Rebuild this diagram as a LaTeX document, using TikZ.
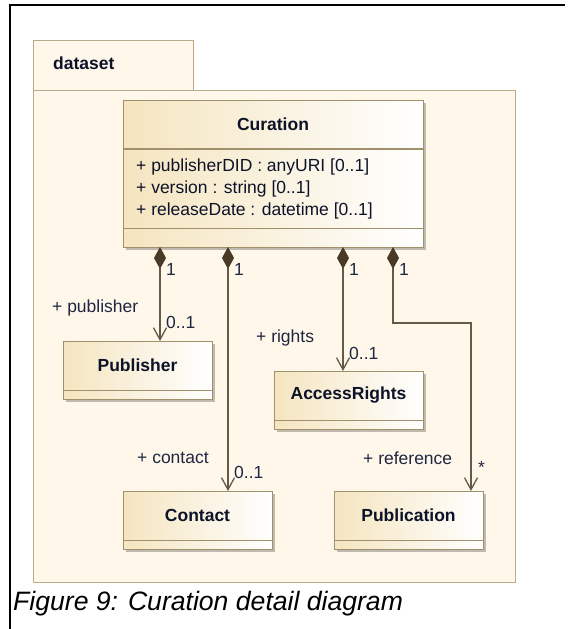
\documentclass[tikz,border=0pt]{standalone}
\usepackage{fontspec}
\setmainfont{Liberation Sans}
\usetikzlibrary{arrows.meta,shadows,calc}
\definecolor{pkgfill}{RGB}{255,248,234}
\definecolor{pkgborder}{RGB}{184,172,136}
\definecolor{clsborder}{RGB}{160,145,108}
\definecolor{clsleft}{RGB}{245,229,192}
\definecolor{linecol}{RGB}{100,90,72}
\definecolor{diamondcol}{RGB}{72,58,38}
\definecolor{txtcol}{RGB}{12,18,40}
\definecolor{lblcol}{RGB}{30,38,66}
\begin{document}
\begin{tikzpicture}[x=1pt,y=-1pt,
  pkg/.style={draw=pkgborder, line width=1.3pt, fill=pkgfill, inner sep=0pt},
  cls/.style={draw=clsborder, line width=1.3pt, left color=clsleft, right color=white, inner sep=0pt,
     drop shadow={shadow xshift=2pt, shadow yshift=-2pt, fill=black, opacity=0.25}},
  clsline/.style={draw=clsborder, line width=1.3pt},
  clsname/.style={inner sep=0pt, text=txtcol, font=\fontsize{17.5}{20}\selectfont\bfseries},
  attr/.style={inner sep=0pt, anchor=west, text=txtcol, font=\fontsize{17.5}{20}\selectfont},
  lbl/.style={inner sep=0pt, anchor=west, text=lblcol, font=\fontsize{17.5}{20}\selectfont},
  comp/.style={draw=linecol, line width=1.3pt,
     {Diamond[length=22pt,width=12pt,color=diamondcol]}-{Straight Barb[length=12pt,width=13pt]}}
]
\useasboundingbox (0,0) rectangle (569,629);
\fill[white] (0,0) rectangle (569,629);
\coordinate (fbl) at (10,629);
\coordinate (ftl) at (10,5);
\coordinate (ftr) at (565,5);
\draw[black, line width=1.2pt] (fbl) -- (ftl) -- (ftr);

% package
\node[pkg, anchor=north west, minimum width=160pt, minimum height=49.5pt] (tab) at (33,40) {};
\node[pkg, anchor=north west, minimum width=482pt, minimum height=492pt] (body) at (33,89.5) {};
\node[clsname, anchor=west] (dsname) at (53,63) {dataset};

% Curation
\node[cls, anchor=north west, minimum width=300pt, minimum height=147pt] (cur) at (123,100) {};
\draw[clsline] ([yshift=-49pt]cur.north west) -- ([yshift=-49pt]cur.north east);
\draw[clsline] ([yshift=20pt]cur.south west) -- ([yshift=20pt]cur.south east);
\node[clsname] (curname) at (273,124) {Curation};
\node[attr] (a1) at (136,167) {+ publisherDID : anyURI [0..1]};
\node[attr] (a2) at (136,189) {+ version : string [0..1]};
\node[attr] (a3) at (136,211) {+ releaseDate : datetime [0..1]};

% Publisher
\node[cls, anchor=north west, minimum width=149pt, minimum height=58pt] (pub) at (63,341) {};
\draw[clsline] ([yshift=10pt]pub.south west) -- ([yshift=10pt]pub.south east);
\node[clsname] (pubname) at (137.5,365) {Publisher};

% AccessRights
\node[cls, anchor=north west, minimum width=149pt, minimum height=58pt] (acc) at (274,371) {};
\draw[clsline] ([yshift=10pt]acc.south west) -- ([yshift=10pt]acc.south east);
\node[clsname] (accname) at (348.5,395) {AccessRights};

% Contact
\node[cls, anchor=north west, minimum width=149pt, minimum height=58pt] (con) at (123,491) {};
\draw[clsline] ([yshift=10pt]con.south west) -- ([yshift=10pt]con.south east);
\node[clsname] (conname) at (197.5,515) {Contact};

% Publication
\node[cls, anchor=north west, minimum width=149pt, minimum height=58pt] (publ) at (334,491) {};
\draw[clsline] ([yshift=10pt]publ.south west) -- ([yshift=10pt]publ.south east);
\node[clsname] (publname) at (408.5,515) {Publication};

% connector start points on Curation
\coordinate (c1) at (160,247);
\coordinate (c2) at (228,247);
\coordinate (c3) at (343,247);
\coordinate (c4) at (393,247);
\coordinate (bend) at (471,323);

\draw[comp] (c1) -- (c1 |- pub.north);
\draw[comp] (c2) -- (c2 |- con.north);
\draw[comp] (c3) -- (c3 |- acc.north);
\draw[comp] (c4) |- (bend) -- (bend |- publ.north);

% multiplicities and roles
\node[lbl] (m1) at (166,269) {1};
\node[lbl] (m2) at (234,269) {1};
\node[lbl] (m3) at (349,269) {1};
\node[lbl] (m4) at (399,269) {1};

\node[lbl] (r1) at (52,308) {+ publisher};
\node[lbl] (n1) at (166,322) {0..1};
\node[lbl] (r3) at (256,338) {+ rights};
\node[lbl] (n3) at (349,353) {0..1};
\node[lbl] (r2) at (137,458) {+ contact};
\node[lbl] (n2) at (234,472) {0..1};
\node[lbl] (r4) at (363,458) {+ reference};
\node[lbl] (n4) at (478,467) {*};

% caption
\node[inner sep=0pt, anchor=west, font=\fontsize{26.6}{30}\selectfont\itshape] (cap) at (13,604) {Figure 9: Curation detail diagram};
\end{tikzpicture}
\end{document}
